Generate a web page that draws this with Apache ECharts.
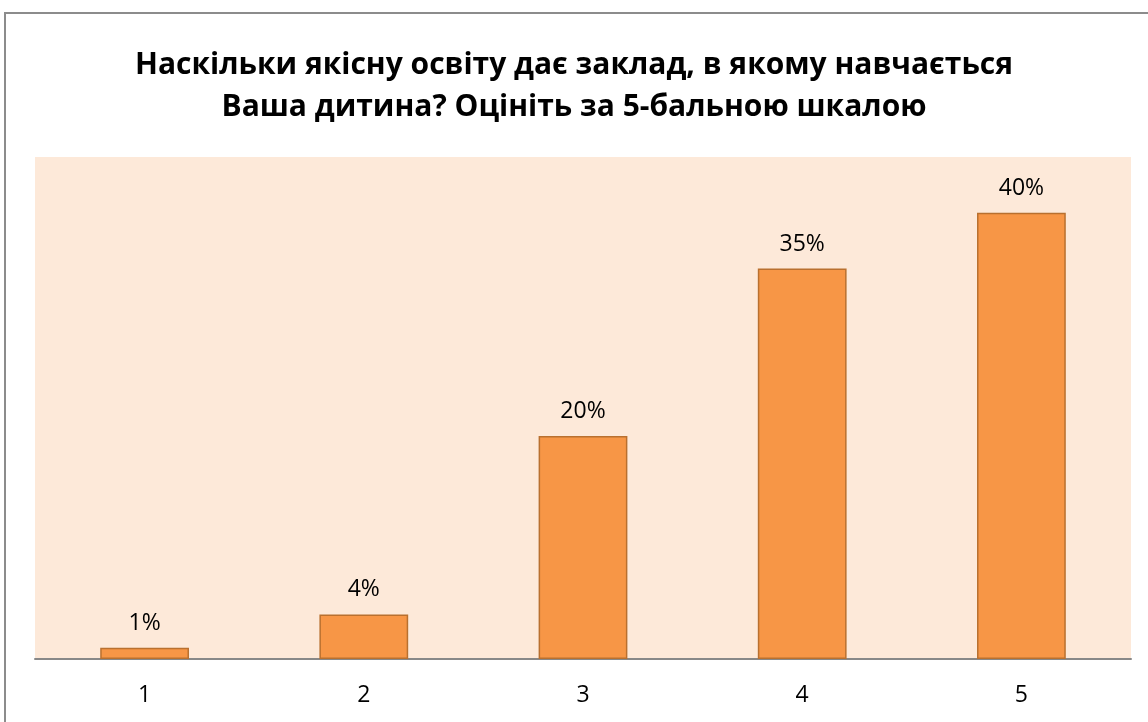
<!DOCTYPE html>
<html>
<head>
<meta charset="utf-8">
<script src="https://cdn.jsdelivr.net/npm/echarts@6/dist/echarts.min.js"></script>
<style>
  html, body { margin: 0; padding: 0; background: #fff; }
  #chart-div { width: 1148px; height: 722px; }
</style>
</head>
<body>
<div id="chart-div"></div>
<script>
// дані з діаграми
const categories = ['1', '2', '3', '4', '5']
const percents = [1, 4, 20, 35, 40]
const titleText = 'Наскільки якісну освіту дає заклад, в якому навчається\nВаша дитина? Оцініть за 5-бальною шкалою'

let myChart = echarts.init(document.getElementById('chart-div'))

const option = {
    animation: false,
    backgroundColor: '#ffffff',
    textStyle: { fontFamily: '"Open Sans", sans-serif' },
    title: {
        text: titleText,
        left: 'center',
        top: 39,
        textStyle: {
            fontSize: 30,
            fontWeight: 'bold',
            color: '#000',
            lineHeight: 42,
            fontFamily: '"Open Sans", sans-serif'
        }
    },
    // рамка навколо діаграми
    graphic: [{
        type: 'rect',
        shape: { x: 5, y: 13, width: 1160, height: 730 },
        style: { fill: 'none', stroke: '#8c8c8c', lineWidth: 2 },
        silent: true
    }],
    grid: {
        left: 35,
        right: 17,
        top: 157,
        bottom: 63,
        show: true,
        backgroundColor: '#fde9d9',
        borderWidth: 0
    },
    xAxis: {
        type: 'category',
        data: categories,
        axisTick: { show: false },
        axisLine: { lineStyle: { color: '#888888', width: 2 } },
        axisLabel: { fontSize: 23, color: '#000', margin: 25 }
    },
    yAxis: {
        type: 'value',
        min: 0,
        max: 45,
        show: false,
        splitLine: { show: false }
    },
    series: [{
        type: 'bar',
        data: percents,
        barWidth: '40.5%',
        itemStyle: {
            color: '#f79646',
            borderColor: '#b9702f',
            borderWidth: 1.5
        },
        label: {
            show: true,
            position: 'top',
            distance: 13,
            fontSize: 23,
            color: '#000',
            formatter: p => p.value + '%'
        }
    }]
}

myChart.setOption(option)
</script>
</body>
</html>
